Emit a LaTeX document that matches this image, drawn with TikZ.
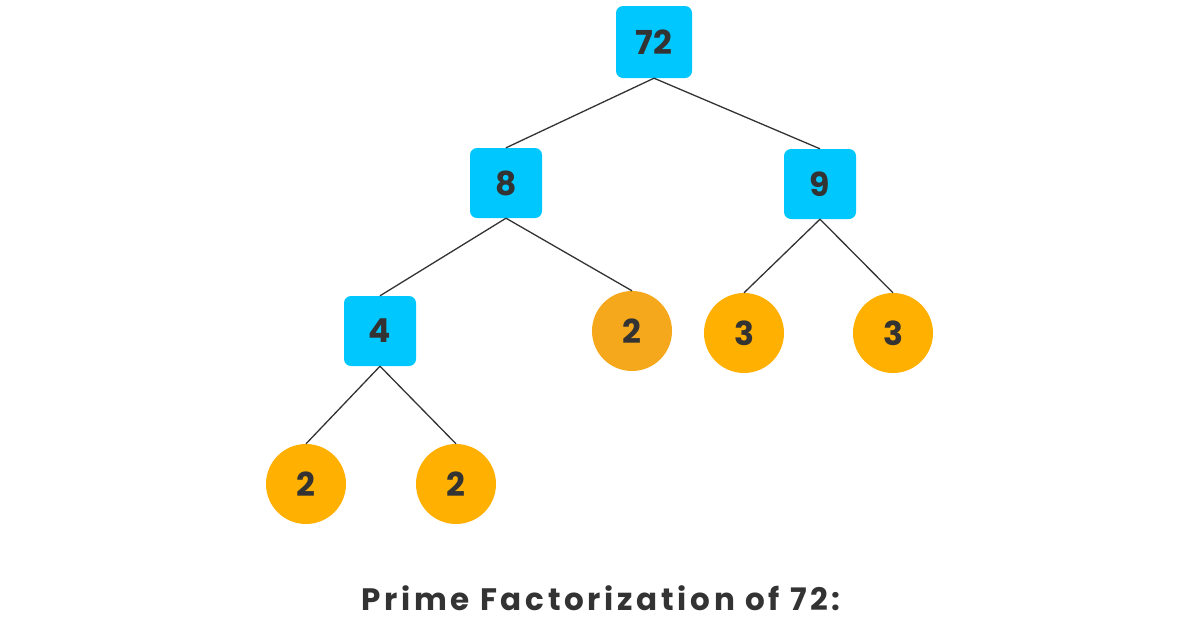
\documentclass[tikz,border=0pt]{standalone}
\usepackage{fontspec}
\setmainfont{Poppins}
\newfontfamily\titlefont[LetterSpace=12]{Poppins}
\begin{document}
\begin{tikzpicture}[x=1pt,y=-1pt,
  box/.style={fill=boxc,rounded corners=7pt,minimum width=72pt,minimum height=70pt,inner sep=0pt,font=\fontsize{33}{33}\selectfont\bfseries\color{txt}},
  ball/.style={circle,fill=ballc,minimum size=80pt,inner sep=0pt,font=\fontsize{33}{33}\selectfont\bfseries\color{txt}},
  edge/.style={draw=txt,line width=1.3pt}]
\definecolor{boxc}{HTML}{00C8FF}
\definecolor{ballc}{HTML}{FFB000}
\definecolor{ballb}{HTML}{F5A81C}
\definecolor{txt}{HTML}{333333}
\useasboundingbox[fill=white] (0,0) rectangle (1200,630);
\node[box,minimum width=76pt,minimum height=72pt] (a) at (654,42) {72};
\node[box] (b) at (506,183) {8};
\node[box] (c) at (820,184) {9};
\node[box] (d) at (380,331) {4};
\node[ball,fill=ballb] (e) at (632,331) {2};
\node[ball] (f) at (744,333) {3};
\node[ball] (g) at (893,333) {3};
\node[ball] (h) at (306,484) {2};
\node[ball] (i) at (456,484) {2};
\draw[edge] (a.south) -- (b.north);
\draw[edge] (a.south) -- (c.north);
\draw[edge] (b.south) -- (d.north);
\draw[edge] (b.south) -- (e.north);
\draw[edge] (c.south) -- (f.north);
\draw[edge] (c.south) -- (g.north);
\draw[edge] (d.south) -- (h.north);
\draw[edge] (d.south) -- (i.north);
\node[font=\fontsize{31}{31}\selectfont\titlefont\bfseries\color{txt}] (t) at (601,598) {Prime Factorization of 72:};
\end{tikzpicture}
\end{document}
